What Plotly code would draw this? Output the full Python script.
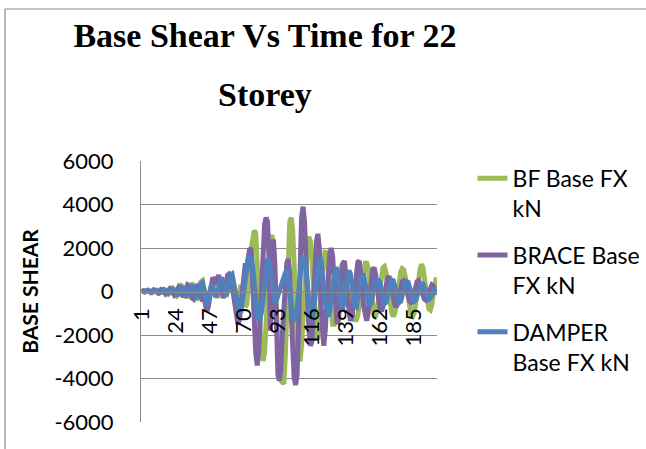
import plotly.graph_objects as go

# ── Data ─────────────────────────────────────────────────────────────────────
TIME_STEPS = list(range(1, 201))
TICK_LABELS = [1, 24, 47, 70, 93, 116, 139, 162, 185]
Y_TICKS = [-6000, -4000, -2000, 0, 2000, 4000, 6000]

BF_BASE_FX = [
    0, 20, -10, 30, 50, 20, -30, -20, 40, 80,
    60, -10, -70, -40, 50, 100, 60, -50, -120, -60,
    70, 150, 100, -50, -200, -150, 50, 250, 200, 0,
    -250, -300, -50, 300, 400, 200, -200, -400, -250, 150,
    450, 500, 200, -200, -500, -400, 0, 400, 500, 200,
    -150, -300, 0, 450, 600, 400, -100, -250, 100, 500,
    650, 500, 100, -300, -600, -500, -100, 300, 200, -300,
    -700, -600, 0, 1000, 2000, 2600, 2800, 2700, 1600, -200,
    -1800, -2900, -3200, -2800, -1500, 200, 1500, 2400, 2600, 2000,
    600, -1200, -2800, -3800, -4100, -4200, -4250, -3000, -500, 2000,
    3200, 3400, 2800, 1200, -800, -2400, -3100, -3200, -2500, -1000,
    500, 1700, 2400, 2500, 2300, 1400, 0, -1300, -2100, -2200,
    -1500, -300, 900, 1700, 1900, 1600, 700, -400, -1200, -1500,
    -1500, -1200, -500, 300, 900, 1200, 1300, 1100, 500, -200,
    -100, -600, -1000, -1250, -1300, -1300, -1100, -600, 0, 600,
    1100, 1300, 1300, 1100, 600, -100, -700, -1100, -1180, -900,
    -400, 200, 800, 1100, 1150, 900, 400, -200, -700, -1000,
    -1150, -1000, -600, 0, 500, 900, 1050, 1000, 700, 200,
    -300, -800, -1100, -1150, -1000, -600, 0, 600, 1000, 1250,
    1100, 600, 0, -500, -800, -850, -600, -100, 400, 650,
]

BRACE_BASE_FX = [
    0, 30, -20, 40, 60, 20, -40, 20, 80, 40,
    -30, -70, 20, 90, 60, -60, -110, -30, 80, 130,
    60, -80, -160, -80, 100, 200, 120, -100, -250, -150,
    100, 300, 250, -50, -300, -350, -100, 250, 350, 100,
    -250, -450, -300, -600, -900, -700, -100, 400, 650, 500,
    300, 600, 750, 500, 0, -300, -100, 400, 750, 800,
    700, 300, -200, -500, -1000, -1500, -1300, -600, 200, 900,
    1300, 1100, 1500, 2000, 1900, 800, -1200, -2800, -3400, -2800,
    -1200, 800, 2400, 3100, 3400, 3200, 1500, -1800, 300, 2400,
    1200, -2000, -3800, -4100, -3500, -2000, -800, 400, 1300, 1500,
    800, -1000, -2800, -4000, -4300, -3800, -1500, 1500, 3400, 3900,
    3200, 1500, -500, -1800, -2500, -2300, -500, 1400, 2300, 2650,
    2000, -500, -2200, -2500, -1800, -400, 900, 1700, 2000, 1600,
    500, -800, -1500, -1300, -400, 600, 1300, 1400, 900, 0,
    -900, -1340, -1200, -500, 300, 1000, 1350, 1400, 900, 100,
    -700, -1200, -1340, -1000, -300, 500, 1000, 1100, 800, 200,
    -400, -800, -900, -700, -200, 300, 600, 700, 500, 100,
    -300, -600, -700, -550, -200, 200, 450, 500, 400, 100,
    -200, -450, -500, -400, -100, 200, 450, 500, 350, 50,
    -200, -350, -400, -300, -50, 150, 300, 250, 50, -150,
]

DAMPER_BASE_FX = [
    0, 10, -20, 20, 40, 30, -10, -40, 10, 60,
    50, 0, -60, -30, 40, 80, 40, -40, -80, -20,
    60, 100, 50, -60, -120, -60, 80, 180, 120, -40,
    -180, -150, 40, 260, 300, 120, -160, -320, -200, 100,
    380, 420, 150, -250, -650, -450, 0, 300, 150, -100,
    -250, -100, 250, 550, 650, 350, -50, -200, 50, 450,
    750, 800, 500, 100, -300, -700, -950, -900, -400, 300,
    900, 1300, 1550, 1600, 1550, 1100, 300, -500, -1000, -1250,
    -1250, -900, -200, 600, 1200, 1500, 1400, 900, 200, -300,
    -500, -400, -200, 100, 300, 400, 600, 850, 900, 600,
    0, -700, -1200, -1300, -1250, -800, 0, 800, 1400, 1600,
    1500, 1000, 200, -600, -1200, -1300, -1000, -300, 500, 1200,
    1550, 1500, 1000, 200, -500, -1000, -1150, -900, -300, 400,
    900, 1100, 1000, 500, -200, -650, -700, -400, 300, 800,
    970, 800, 300, -300, -650, -700, -400, 100, 550, 750,
    740, 450, 0, -450, -650, -550, -200, 250, 500, 530,
    520, 400, 100, -300, -550, -500, -250, 150, 450, 520,
    500, 300, -50, -350, -500, -450, -250, 100, 350, 450,
    420, 250, -50, -300, -450, -400, -200, 100, 300, 350,
    340, 200, -50, -250, -350, -300, -200, 0, 150, 0,
]

SERIES = [
    ("BF Base FX<br>kN", BF_BASE_FX, "#9BBB59"),
    ("BRACE Base<br>FX kN", BRACE_BASE_FX, "#8064A2"),
    ("DAMPER<br>Base FX kN", DAMPER_BASE_FX, "#4F81BD"),
]

FONT = "Lato, 'Open Sans', sans-serif"
SERIF = "'Liberation Serif', 'Times New Roman', serif"
GRID = "#8C8C8C"

fig = go.Figure()
for name, values, colour in SERIES:
    fig.add_trace(
        go.Scatter(
            x=TIME_STEPS,
            y=values,
            name=name,
            mode="lines",
            legendgroup=name,
            line=dict(color=colour, width=5),
        )
    )

fig.update_layout(
    width=646,
    height=449,
    paper_bgcolor="white",
    plot_bgcolor="white",
    font=dict(family=FONT, size=22, color="black"),
    # fixed plot box; don't let the legend push the margins
    margin=dict(l=141, r=209, t=161, b=27, autoexpand=False),
    title=dict(
        text="<b>Base Shear Vs Time for 22</b>",
        font=dict(family=SERIF, size=34),
        x=265 / 646, xanchor="center",
        y=1 - 35 / 449, yanchor="middle",
    ),
    showlegend=True,
    legend=dict(
        x=1.12, xanchor="left",
        y=1.016, yanchor="top",
        valign="top",
        tracegroupgap=14,
        maxheight=440,
        font=dict(family=FONT, size=23),
        bgcolor="rgba(0,0,0,0)",
    ),
    xaxis=dict(
        range=[0.5, 200.5],
        tickmode="array",
        tickvals=TICK_LABELS,
        ticktext=[str(t) for t in TICK_LABELS],
        tickangle=-90,
        ticklabelstandoff=7,
        anchor="free",
        position=0.5,
        showgrid=False,
        zeroline=False,
        showline=True,
        linecolor=GRID,
        linewidth=1,
        tickfont=dict(family=FONT, size=22),
    ),
    yaxis=dict(
        range=[-6000, 6000],
        tickmode="array",
        tickvals=Y_TICKS,
        ticktext=[str(v) for v in Y_TICKS],
        showgrid=True,
        gridcolor=GRID,
        gridwidth=1,
        zeroline=False,
        showline=True,
        linecolor=GRID,
        linewidth=1,
        ticklabelstandoff=22,
        tickfont=dict(family=FONT, size=22),
        title=dict(
            text="<b>BASE SHEAR</b>",
            font=dict(family=FONT, size=21),
            standoff=10,
        ),
    ),
    annotations=[
        dict(
            text="<b>Storey</b>",
            xref="paper", yref="paper",
            x=(265 - 141) / 296, y=(422 - 94) / 261,
            xanchor="center", yanchor="middle",
            showarrow=False,
            font=dict(family=SERIF, size=34),
        )
    ],
    shapes=[
        # outer chart border (left and top edges visible in the crop)
        dict(type="line", xref="paper", yref="paper",
             x0=(5 - 141) / 296, x1=(5 - 141) / 296,
             y0=(422 - 460) / 261, y1=(422 - 9) / 261,
             line=dict(color="#8C8C8C", width=1.2)),
        dict(type="line", xref="paper", yref="paper",
             x0=(5 - 141) / 296, x1=(660 - 141) / 296,
             y0=(422 - 9) / 261, y1=(422 - 9) / 261,
             line=dict(color="#8C8C8C", width=1.2)),
    ],
)

# the page body has a default 8px margin; drop it so the figure sits at 0,0
fig.write_html(
    "out.html",
    config={"displayModeBar": False},
    post_script="document.body.style.margin='0';",
)
